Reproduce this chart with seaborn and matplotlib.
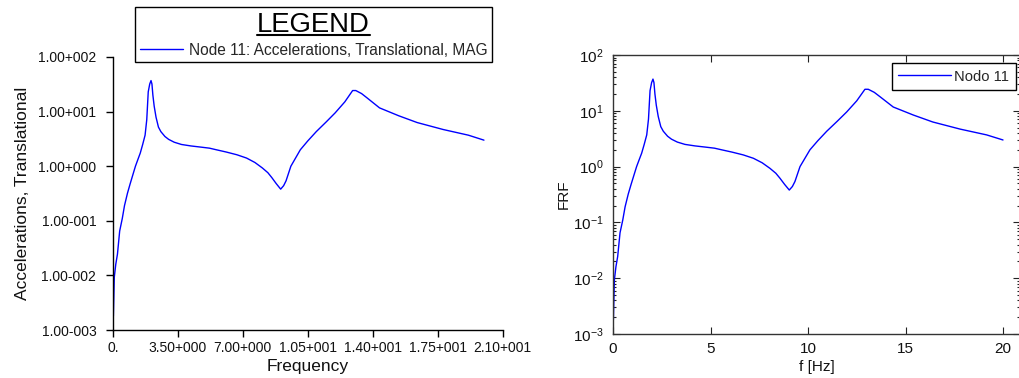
import numpy as np
import pandas as pd
import matplotlib
matplotlib.use("Agg")
import matplotlib.pyplot as plt
import seaborn as sns
from matplotlib.lines import Line2D
from matplotlib.ticker import LogLocator, NullLocator, NullFormatter

# Frequency response of node 11 (acceleration magnitude)
freq_hz = [0.02, 0.07, 0.15, 0.24, 0.36, 0.5, 0.62, 0.78, 0.92, 1.05, 1.21, 1.35,
           1.47, 1.6, 1.73, 1.82, 1.9, 1.98, 2.05, 2.1, 2.15, 2.22, 2.32, 2.45,
           2.58, 2.8, 3.0, 3.3, 3.69, 4.2, 4.72, 5.2, 5.57, 6.1, 6.68, 7.2, 7.65,
           8.05, 8.35, 8.56, 8.8, 9.04, 9.2, 9.33, 9.59, 10.1, 10.5, 10.96, 11.5,
           11.98, 12.5, 12.92, 13.09, 13.4, 13.7, 14.37, 15.4, 16.4, 17.8, 19.16, 20.0]
accel_mag = [0.0018, 0.0093, 0.016, 0.0245, 0.065, 0.11, 0.19, 0.32, 0.47, 0.66, 1.0, 1.35,
             1.74, 2.5, 3.7, 7.1, 23.0, 32.0, 37.0, 32.0, 20.0, 12.6, 7.9, 5.2,
             4.3, 3.5, 3.1, 2.75, 2.5, 2.35, 2.24, 2.14, 2.0, 1.82, 1.62, 1.41, 1.17,
             0.93, 0.76, 0.62, 0.48, 0.38, 0.44, 0.54, 1.0, 2.0, 2.9, 4.3, 6.5,
             9.5, 15.1, 24.3, 24.3, 21.4, 17.8, 11.7, 8.4, 6.3, 4.7, 3.7, 3.0]

left_xticks = [0, 3.5, 7, 10.5, 14, 17.5, 21]
left_xticklabels = ["0.", "3.50+000", "7.00+000", "1.05+001", "1.40+001", "1.75+001", "2.10+001"]
left_yticks = [1e-3, 1e-2, 1e-1, 1e0, 1e1, 1e2]
left_yticklabels = ["1.00-003", "1.00-002", "1.00-001", "1.00+000", "1.00+001", "1.00+002"]
right_xticks = [0, 5, 10, 15, 20]
right_yticks = [1e-3, 1e-2, 1e-1, 1e0, 1e1, 1e2]

left_label = "Node 11: Accelerations, Translational, MAG"
right_label = "Nodo 11"

df = pd.DataFrame({"freq": freq_hz, "mag": accel_mag})

sns.set_theme(style="white")
plt.rcParams["font.family"] = ["Liberation Sans", "DejaVu Sans"]
plt.rcParams["mathtext.fontset"] = "custom"
plt.rcParams["mathtext.rm"] = "Liberation Sans"

W, H = 1019, 378
fig = plt.figure(figsize=(W / 100, H / 100), dpi=100)
fig.patch.set_facecolor("white")

# ---------------- left panel: post-processor style ----------------
axL = fig.add_axes([113 / W, 48 / H, (502.5 - 113) / W, (330 - 57) / H])
sns.lineplot(data=df, x="freq", y="mag", ax=axL, color="#0000ff", lw=1.0, label=left_label)
axL.set_yscale("log")
axL.set_xlim(0, 21)
axL.set_ylim(1e-3, 1e2)
axL.set_xticks(left_xticks, left_xticklabels)
axL.set_yticks(left_yticks, left_yticklabels)
axL.yaxis.set_minor_locator(NullLocator())
axL.xaxis.set_minor_locator(NullLocator())
sns.despine(ax=axL)
for s in ("left", "bottom"):
    axL.spines[s].set_color("black")
    axL.spines[s].set_linewidth(1.0)
axL.tick_params(axis="both", which="major", direction="out", length=5, width=1,
                color="black", labelsize=10, labelcolor="#111111",
                left=True, bottom=True)
axL.tick_params(axis="y", pad=7)
axL.tick_params(axis="x", pad=3)
axL.set_xlabel("Frequency", fontsize=12.5, labelpad=2.5, color="#111111")
axL.set_ylabel("Accelerations, Translational", fontsize=12.5, labelpad=5.5, color="#111111")

legL = axL.legend(loc="upper left", bbox_to_anchor=(135 / W, 1 - 7.3 / H),
                  bbox_transform=fig.transFigure, title="LEGEND", title_fontsize=19.8,
                  fontsize=11.2, frameon=True, fancybox=False, edgecolor="black",
                  framealpha=1, borderpad=0.3, handlelength=2.8, handletextpad=0.35,
                  borderaxespad=0, labelspacing=0.3)
legL.get_frame().set_linewidth(1.0)
legL.get_title().set_color("black")

# ---------------- right panel: MATLAB style ----------------
axR = fig.add_axes([613 / W, 44 / H, (1020 - 613) / W, (334 - 55) / H])
sns.lineplot(data=df, x="freq", y="mag", ax=axR, color="#0000ff", lw=1.0, label=right_label)
axR.set_yscale("log")
axR.set_xlim(0, (1020 - 613) / 19.5)
axR.set_ylim(1e-3, 1e2)
axR.set_xticks(right_xticks)
axR.set_yticks(right_yticks)
axR.yaxis.set_minor_locator(LogLocator(base=10, subs=np.arange(2, 10), numticks=20))
axR.yaxis.set_minor_formatter(NullFormatter())
axR.xaxis.set_minor_locator(NullLocator())
for s in axR.spines.values():
    s.set_color("#333333")
    s.set_linewidth(1.0)
axR.tick_params(axis="both", which="both", direction="in", top=True, right=True,
                left=True, bottom=True, color="#222222", width=0.8)
axR.tick_params(axis="both", which="major", length=5, labelsize=11, labelcolor="#111111")
axR.tick_params(axis="both", which="minor", length=2.5)
axR.tick_params(axis="y", pad=7)
axR.tick_params(axis="x", pad=6)
axR.set_xlabel("f [Hz]", fontsize=11, labelpad=3, color="#111111")
axR.set_ylabel("FRF", fontsize=11, labelpad=1, color="#111111")

legR = axR.legend(loc="upper right", bbox_to_anchor=(1016 / W, 1 - 63 / H),
                  bbox_transform=fig.transFigure, fontsize=10.6, frameon=True,
                  fancybox=False, edgecolor="black", framealpha=1, borderpad=0.45,
                  handlelength=3.6, handletextpad=0.2, borderaxespad=0)
legR.get_frame().set_linewidth(1.0)

# underline the left legend title
fig.canvas.draw()
bb = legL.get_title().get_window_extent()
y_ul = 1 - 34.5 / H
fig.add_artist(Line2D([bb.x0 / W, bb.x1 / W], [y_ul, y_ul], transform=fig.transFigure,
                      color="black", lw=1.5))

fig.savefig("out.png", dpi=100, facecolor="white")
